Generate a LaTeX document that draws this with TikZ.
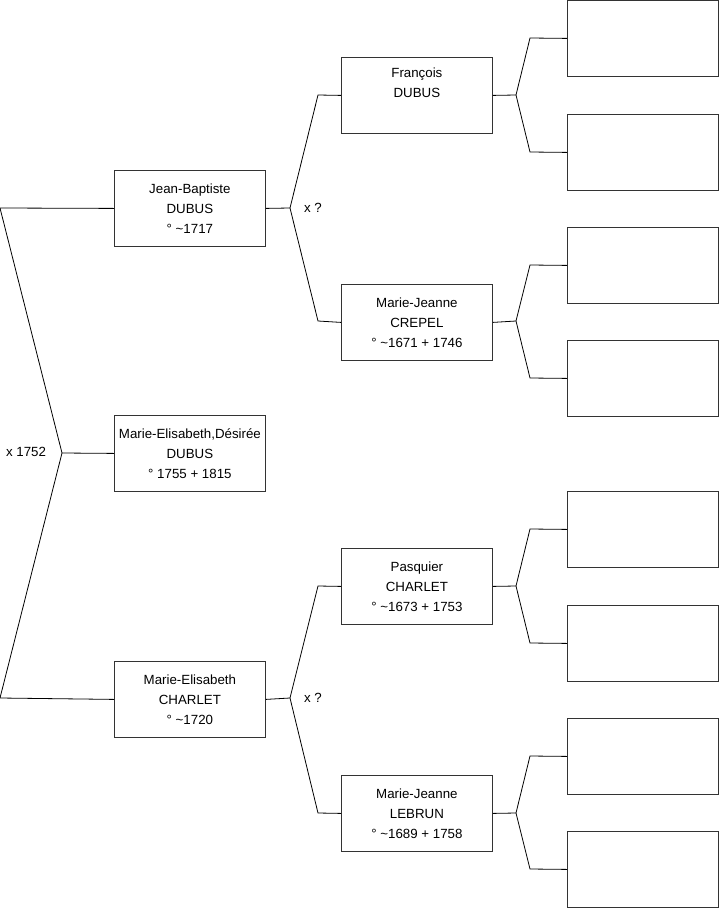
\documentclass[tikz,border=0pt]{standalone}
\usepackage{fontspec}
\setmainfont{Liberation Sans}
\usepackage{tikz}
\usetikzlibrary{positioning}

\begin{document}
\begin{tikzpicture}[x=1pt, y=-1pt,
  font=\fontsize{13.3}{20}\selectfont,
  person/.style={draw=black!80, line width=0.8pt, anchor=north west, minimum width=151pt, minimum height=76pt, inner sep=0pt, align=center},
  empty/.style={person},
  link/.style={line width=0.8pt},
  union/.style={font=\fontsize{13.3}{16}\selectfont}]

\useasboundingbox (0,0) rectangle (719,908);

% generation 1
\node[person] (desiree) at (114,415) {Marie-Elisabeth,Désirée\\DUBUS\\° 1755 + 1815};

% generation 2
\node[person] (jbdubus) at (114,170) {Jean-Baptiste\\DUBUS\\° \textasciitilde1717};
\node[person] (mecharlet) at (114,661) {Marie-Elisabeth\\CHARLET\\° \textasciitilde1720};

% generation 3
\node[person] (francois) at (341,57) {François\\DUBUS\\\strut};
\node[person] (mjcrepel) at (341,284) {Marie-Jeanne\\CREPEL\\° \textasciitilde1671 + 1746};
\node[person] (pasquier) at (341,548) {Pasquier\\CHARLET\\° \textasciitilde1673 + 1753};
\node[person] (mjlebrun) at (341,775) {Marie-Jeanne\\LEBRUN\\° \textasciitilde1689 + 1758};

% generation 4 (unknown)
\node[empty] (e1) at (567,0) {};
\node[empty] (e2) at (567,114) {};
\node[empty] (e3) at (567,227) {};
\node[empty] (e4) at (567,340) {};
\node[empty] (e5) at (567,491) {};
\node[empty] (e6) at (567,605) {};
\node[empty] (e7) at (567,718) {};
\node[empty] (e8) at (567,831) {};

% forks
\coordinate (f0) at (62,453);
\coordinate (f0a) at (0,208);
\coordinate (f0b) at (0,698);
\coordinate (f1) at (290,208);
\coordinate (f1a) at (318,95);
\coordinate (f1b) at (318,321);
\coordinate (f2) at (290,698);
\coordinate (f2a) at (318,586);
\coordinate (f2b) at (318,813);

\coordinate (g1) at (516,95);
\coordinate (g1a) at (530,38);
\coordinate (g1b) at (530,152);
\coordinate (g2) at (516,321);
\coordinate (g2a) at (530,265);
\coordinate (g2b) at (530,378);
\coordinate (g3) at (516,586);
\coordinate (g3a) at (530,529);
\coordinate (g3b) at (530,643);
\coordinate (g4) at (516,813);
\coordinate (g4a) at (530,756);
\coordinate (g4b) at (530,869);

\draw[link] (desiree.west) -- (f0) -- (f0a) -- (jbdubus.west);
\draw[link] (f0) -- (f0b) -- (mecharlet.west);
\draw[link] (jbdubus.east) -- (f1) -- (f1a) -- (francois.west);
\draw[link] (f1) -- (f1b) -- (mjcrepel.west);
\draw[link] (mecharlet.east) -- (f2) -- (f2a) -- (pasquier.west);
\draw[link] (f2) -- (f2b) -- (mjlebrun.west);

\draw[link] (francois.east) -- (g1) -- (g1a) -- (e1.west);
\draw[link] (g1) -- (g1b) -- (e2.west);
\draw[link] (mjcrepel.east) -- (g2) -- (g2a) -- (e3.west);
\draw[link] (g2) -- (g2b) -- (e4.west);
\draw[link] (pasquier.east) -- (g3) -- (g3a) -- (e5.west);
\draw[link] (g3) -- (g3b) -- (e6.west);
\draw[link] (mjlebrun.east) -- (g4) -- (g4a) -- (e7.west);
\draw[link] (g4) -- (g4b) -- (e8.west);

\node[union] (m0) at (26,452) {x 1752};
\node[union] (m1) at (313,208) {x ?};
\node[union] (m2) at (313,698) {x ?};
\end{tikzpicture}
\end{document}
